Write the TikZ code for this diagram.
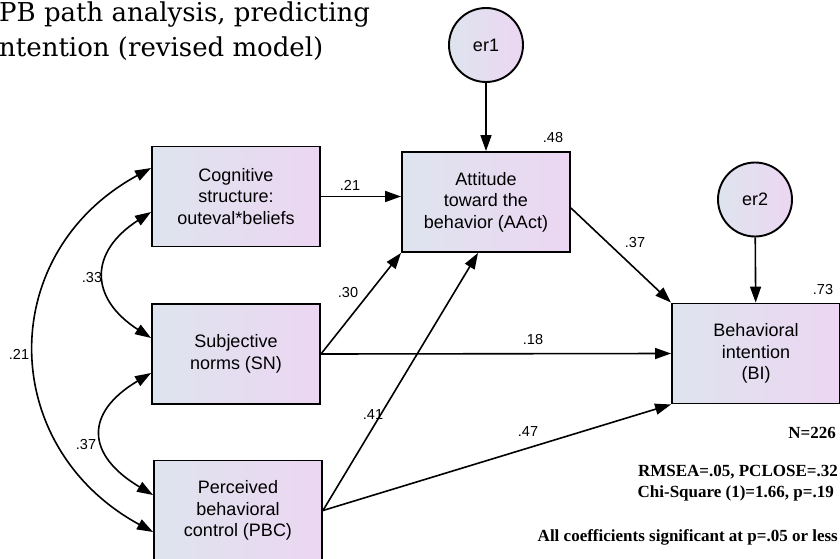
\documentclass[tikz,border=0pt]{standalone}
\usepackage{fontspec}
\setmainfont{Liberation Sans}
\newfontfamily\titlefont{DejaVu Serif}
\newfontfamily\notefont{Liberation Serif}
\usetikzlibrary{arrows.meta}

\definecolor{boxL}{RGB}{222,228,238}
\definecolor{boxR}{RGB}{236,214,242}

\begin{document}
\begin{tikzpicture}[x=1pt,y=-1pt,
  var/.style={draw, line width=1.9pt, left color=boxL, right color=boxR,
    minimum width=168pt, minimum height=100pt, align=center, inner sep=0pt,
    font=\fontsize{18}{21.5}\selectfont},
  err/.style={circle, draw, line width=1.9pt, left color=boxL, right color=boxR,
    minimum size=74pt, inner sep=0pt, font=\fontsize{18}{21.5}\selectfont},
  path/.style={line width=1.6pt, -{Triangle[length=16pt,width=11pt]}},
  cov/.style={line width=1.6pt, {Triangle[length=16pt,width=11pt]}-{Triangle[length=16pt,width=11pt]}},
  coef/.style={font=\fontsize{14.5}{16}\selectfont, inner sep=0pt},
  note/.style={font=\notefont\bfseries\fontsize{17}{19}\selectfont, inner sep=0pt, anchor=base east},
  heading/.style={anchor=base west, inner sep=0pt, font=\titlefont\fontsize{26}{30}\selectfont}
]
\useasboundingbox (0,0) rectangle (840,559);

% title
\node[heading] (title1) at (-1,22) {PB path analysis, predicting};
\node[heading] (title2) at (-1,57) {ntention (revised model)};

% observed variables
\node[var] (cog) at (236,196.5) {Cognitive\\structure:\\outeval*beliefs};
\node[var] (att) at (486,202) {Attitude\\toward the\\behavior (AAct)};
\node[var] (sn)  at (236,354) {Subjective\\norms (SN)};
\node[var] (pbc) at (238,510.5) {Perceived\\behavioral\\control (PBC)};
\node[var] (bi)  at (756,353.5) {Behavioral\\intention\\(BI)};

% error terms
\node[err] (er1) at (486,45) {er1};
\node[err] (er2) at (755,199.5) {er2};

% directed paths
\draw[path] (er1) -- (att);
\draw[path] (er2) -- (bi);
\draw[path] (cog.east) -- (att.west |- cog.east);
\draw[path] ([yshift=-6pt]att.east) -- (bi.north west);
\draw[path] (sn.east) -- (att.south west);
\draw[path] (sn.east) -- (bi.west);
\draw[path] (pbc.east) -- ([xshift=-8pt]att.south);
\draw[path] (pbc.east) -- (bi.south west);

% covariances
\draw[cov] ([yshift=-15.5pt]cog.west) .. controls +(-62,40) and +(-62,-40) .. ([yshift=16pt]sn.west);
\draw[cov] ([yshift=-19pt]sn.west) .. controls +(-67,40) and +(-67,-40) .. ([yshift=15.5pt]pbc.west);
\draw[cov] ([yshift=28.5pt]cog.west) .. controls +(-156,85) and +(-156,-85) .. ([yshift=-21.5pt]pbc.west);

% coefficients
\node[coef] (c1) at (350,185) {.21};
\node[coef] (c2) at (553,138) {.48};
\node[coef] (c3) at (635,243) {.37};
\node[coef] (c4) at (823,290) {.73};
\node[coef] (c5) at (92,278) {.33};
\node[coef] (c6) at (19,354) {.21};
\node[coef] (c7) at (86,445) {.37};
\node[coef] (c8) at (348,293) {.30};
\node[coef] (c9) at (533,340) {.18};
\node[coef] (c10) at (373,415) {.41};
\node[coef] (c11) at (528,432) {.47};

% fit statistics
\node[note] (n1) at (836,438) {N=226};
\node[note] (n2) at (838,476) {RMSEA=.05, PCLOSE=.32};
\node[note] (n3) at (834,497) {Chi-Square (1)=1.66, p=.19};
\node[note] (n4) at (838,541) {All coefficients significant at p=.05 or less};
\end{tikzpicture}
\end{document}
